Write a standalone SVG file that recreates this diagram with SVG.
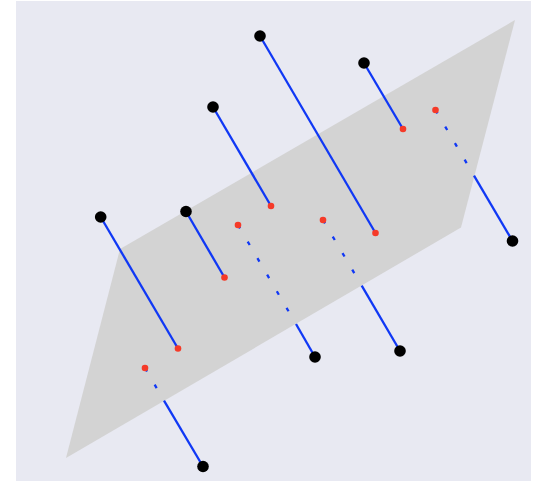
<svg xmlns="http://www.w3.org/2000/svg" width="543" height="481" viewBox="0 0 543 481">
<style>
.link{stroke:#1038f5;stroke-width:2.300;fill:none}
.dash{stroke-dasharray:4 15.2}
.end{fill:#000}
.foot{fill:#f53a28}
</style>
<rect width="543" height="481" fill="#fff"/>
<rect x="16" y="1" width="515" height="480" fill="#e8e9f2"/>
<polygon id="plane" points="66,458 120,249 515,20 461,227.500" fill="#d3d3d3"/>
<g id="connectors">
<line class="link" x1="100.700" y1="217" x2="178" y2="348.500"/>
<line class="link" x1="186" y1="211.500" x2="224.500" y2="277.500"/>
<line class="link" x1="213" y1="107" x2="271" y2="206"/>
<line class="link" x1="260" y1="36" x2="375.500" y2="233"/>
<line class="link" x1="364" y1="63" x2="403" y2="129"/>
<line class="link dash" x1="238" y1="225" x2="296" y2="324"/>
<line class="link" x1="296" y1="324" x2="315" y2="357"/>
<line class="link dash" x1="323" y1="220" x2="361.700" y2="285.700"/>
<line class="link" x1="361.700" y1="285.700" x2="400" y2="351"/>
<line class="link dash" x1="435.500" y1="110" x2="474" y2="175.700"/>
<line class="link" x1="474" y1="175.700" x2="512.500" y2="241"/>
<line class="link dash" x1="145" y1="368" x2="164" y2="400.700"/>
<line class="link" x1="164" y1="400.700" x2="203" y2="466.500"/>
</g>
<g id="n1"><circle class="end" cx="100.700" cy="217" r="5.800"/><circle class="foot" cx="178" cy="348.500" r="3.300"/></g>
<g id="n2"><circle class="end" cx="186" cy="211.500" r="5.800"/><circle class="foot" cx="224.500" cy="277.500" r="3.300"/></g>
<g id="n3"><circle class="end" cx="213" cy="107" r="5.800"/><circle class="foot" cx="271" cy="206" r="3.300"/></g>
<g id="n4"><circle class="end" cx="260" cy="36" r="5.800"/><circle class="foot" cx="375.500" cy="233" r="3.300"/></g>
<g id="n5"><circle class="end" cx="364" cy="63" r="5.800"/><circle class="foot" cx="403" cy="129" r="3.300"/></g>
<g id="n6"><circle class="end" cx="315" cy="357" r="5.800"/><circle class="foot" cx="238" cy="225" r="3.300"/></g>
<g id="n7"><circle class="end" cx="400" cy="351" r="5.800"/><circle class="foot" cx="323" cy="220" r="3.300"/></g>
<g id="n8"><circle class="end" cx="512.500" cy="241" r="5.800"/><circle class="foot" cx="435.500" cy="110" r="3.300"/></g>
<g id="n9"><circle class="end" cx="203" cy="466.500" r="5.800"/><circle class="foot" cx="145" cy="368" r="3.300"/></g>
</svg>
